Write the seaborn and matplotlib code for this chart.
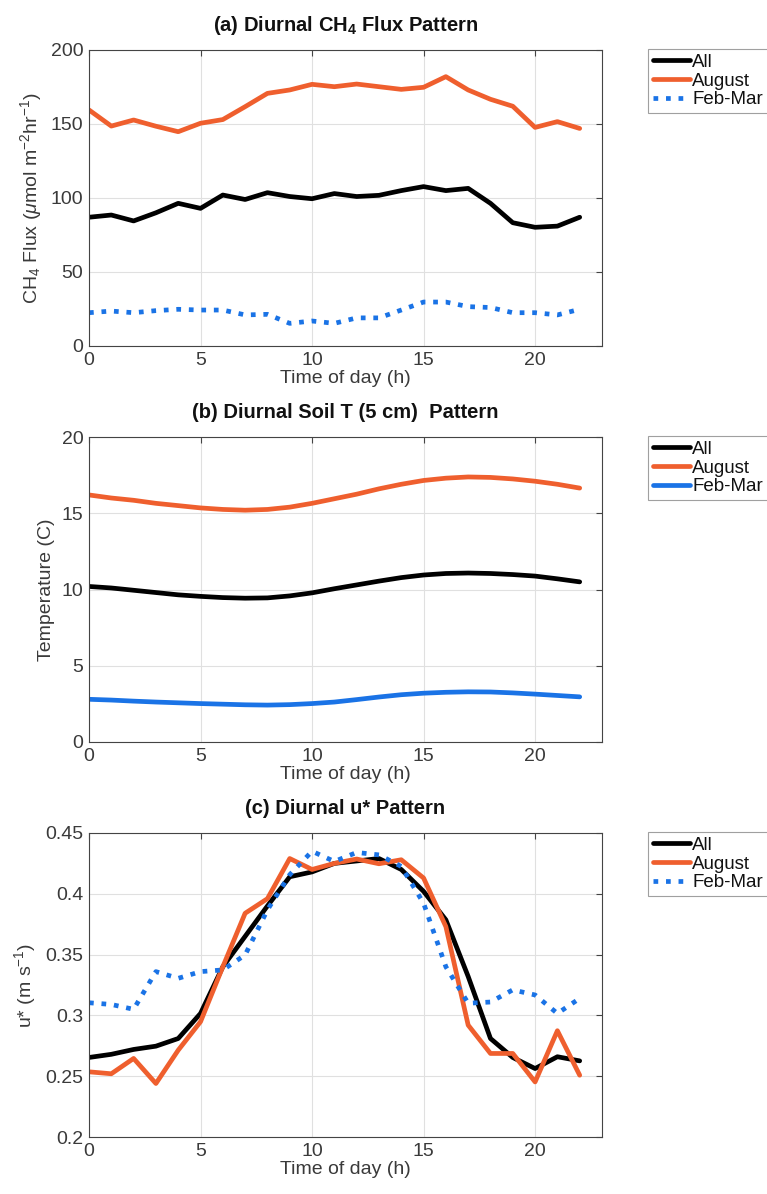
import numpy as np
import pandas as pd
import matplotlib
matplotlib.use("Agg")
import matplotlib.pyplot as plt
import seaborn as sns

hours = list(range(23))

# (a) CH4 flux
ch4_all = [87, 88.5, 84.5, 90, 96.4, 93, 102, 99, 103.6, 101, 99.5, 103, 101, 101.8,
           105, 107.7, 105, 106.5, 96.4, 83.3, 80.2, 81, 87]
ch4_aug = [159.5, 148.6, 152.7, 148.5, 144.8, 150.5, 153, 161.7, 170.7, 173, 176.8, 175.2,
           177, 175.2, 173.4, 174.8, 182, 173, 166.7, 162, 147.7, 151.6, 147]
ch4_feb = [22.5, 23.6, 22.5, 23.9, 24.8, 24.3, 24.3, 21, 21.4, 15.3, 16.9, 15.3, 19, 19,
           24.3, 29.7, 29.7, 26.6, 26, 22.5, 22.5, 21, 24.8]

# (b) soil temperature
t_all = [10.2, 10.1, 9.95, 9.8, 9.65, 9.55, 9.47, 9.43, 9.45, 9.58, 9.78, 10.05, 10.3,
         10.55, 10.78, 10.95, 11.05, 11.08, 11.05, 10.98, 10.88, 10.7, 10.5]
t_aug = [16.2, 16.0, 15.85, 15.65, 15.5, 15.35, 15.25, 15.2, 15.25, 15.4, 15.65, 15.95,
         16.25, 16.6, 16.9, 17.15, 17.3, 17.38, 17.35, 17.25, 17.1, 16.9, 16.65]
t_feb = [2.8, 2.75, 2.68, 2.62, 2.57, 2.52, 2.48, 2.44, 2.42, 2.45, 2.52, 2.62, 2.78,
         2.95, 3.1, 3.2, 3.26, 3.29, 3.28, 3.22, 3.14, 3.05, 2.96]

# (c) u*
u_all = [0.2654, 0.268, 0.272, 0.2747, 0.281, 0.3016, 0.34, 0.365, 0.39, 0.414, 0.418,
         0.425, 0.427, 0.429, 0.42, 0.402, 0.3786, 0.332, 0.281, 0.2654, 0.2563, 0.266, 0.2626]
u_aug = [0.2536, 0.252, 0.2646, 0.244, 0.2714, 0.2948, 0.34, 0.384, 0.396, 0.429, 0.42,
         0.425, 0.4286, 0.4247, 0.428, 0.413, 0.373, 0.292, 0.2687, 0.2687, 0.2453, 0.2874, 0.2508]
u_feb = [0.3104, 0.309, 0.305, 0.336, 0.3305, 0.336, 0.3374, 0.3497, 0.3868, 0.4157, 0.435,
         0.4266, 0.434, 0.432, 0.4225, 0.3923, 0.34, 0.31, 0.311, 0.321, 0.3168, 0.3016, 0.314]

series_names = ["All", "August", "Feb-Mar"]
titles = [r"(a) Diurnal CH$_\mathbf{4}$ Flux Pattern",
          "(b) Diurnal Soil T (5 cm)  Pattern",
          "(c) Diurnal u* Pattern"]
ylabels = [r"CH$_4$ Flux ($\mu$mol m$^{-2}$hr$^{-1}$)", "Temperature (C)", r"u* (m s$^{-1}$)"]
yticks = [[0, 50, 100, 150, 200], [0, 5, 10, 15, 20], [0.2, 0.25, 0.3, 0.35, 0.4, 0.45]]
yticklabels = [["0", "50", "100", "150", "200"], ["0", "5", "10", "15", "20"],
               ["0.2", "0.25", "0.3", "0.35", "0.4", "0.45"]]
xticks = [0, 5, 10, 15, 20]

sns.set_style("white")
plt.rcParams["font.family"] = ["Liberation Sans", "DejaVu Sans"]
plt.rcParams["mathtext.fontset"] = "custom"
plt.rcParams["mathtext.rm"] = "Liberation Sans"
plt.rcParams["mathtext.it"] = "Liberation Sans:italic"
plt.rcParams["mathtext.bf"] = "Liberation Sans:bold"

W, H = 767, 1194
fig = plt.figure(figsize=(W / 100, H / 100), dpi=100)

panels = [
    (ch4_all, ch4_aug, ch4_feb, ":"),
    (t_all, t_aug, t_feb, "-"),
    (u_all, u_aug, u_feb, ":"),
]
tops = [50, 437, 833]
bottoms = [346, 742, 1137]
left, right = 89, 602
palette = {"All": "#000000", "August": "#EF5F2E", "Feb-Mar": "#1A73E6"}
txt = "#3a3a3a"

for i, (a, b, c, feb_style) in enumerate(panels):
    ax = fig.add_axes([left / W, 1 - bottoms[i] / H, (right - left) / W, (bottoms[i] - tops[i]) / H])
    df = pd.DataFrame({
        "hour": hours * 3,
        "value": list(a) + list(b) + list(c),
        "series": ["All"] * 23 + ["August"] * 23 + ["Feb-Mar"] * 23,
    })
    for name in series_names:
        sub = df[df["series"] == name]
        ls = feb_style if name == "Feb-Mar" else "-"
        sns.lineplot(data=sub, x="hour", y="value", ax=ax, color=palette[name],
                     linewidth=3.4, linestyle=ls, label=name, legend=False)
    ax.set_xlim(0, 23)
    ax.set_ylim(yticks[i][0], yticks[i][-1])
    ax.set_xticks(xticks)
    ax.set_xticklabels([str(x) for x in xticks])
    ax.set_yticks(yticks[i])
    ax.set_yticklabels(yticklabels[i])
    ax.grid(True, color="#e0e0e0", linewidth=0.8)
    for s in ax.spines.values():
        s.set_color("#444444")
        s.set_linewidth(0.8)
        s.set_visible(True)
    ax.tick_params(direction="in", length=4, width=0.8, top=True, right=True,
                   labelsize=14, colors="#444444", labelcolor=txt, pad=4)
    ax.set_xlabel("Time of day (h)", fontsize=14, labelpad=1, color=txt)
    ax.set_ylabel(ylabels[i], fontsize=14, labelpad=5, color=txt)
    ax.set_title(titles[i], fontsize=14.5, fontweight="bold", pad=14, color="#111111")
    leg = ax.legend(loc="upper left", bbox_to_anchor=(1.09, 1.003), fontsize=13.5,
                    frameon=True, fancybox=False, edgecolor="#888888",
                    handlelength=2.0, handletextpad=0.1, borderpad=0.25,
                    labelspacing=0.08, borderaxespad=0)
    leg.get_frame().set_linewidth(0.8)
    for t in leg.get_texts():
        t.set_color("#111111")

fig.savefig("out.png", dpi=100)
